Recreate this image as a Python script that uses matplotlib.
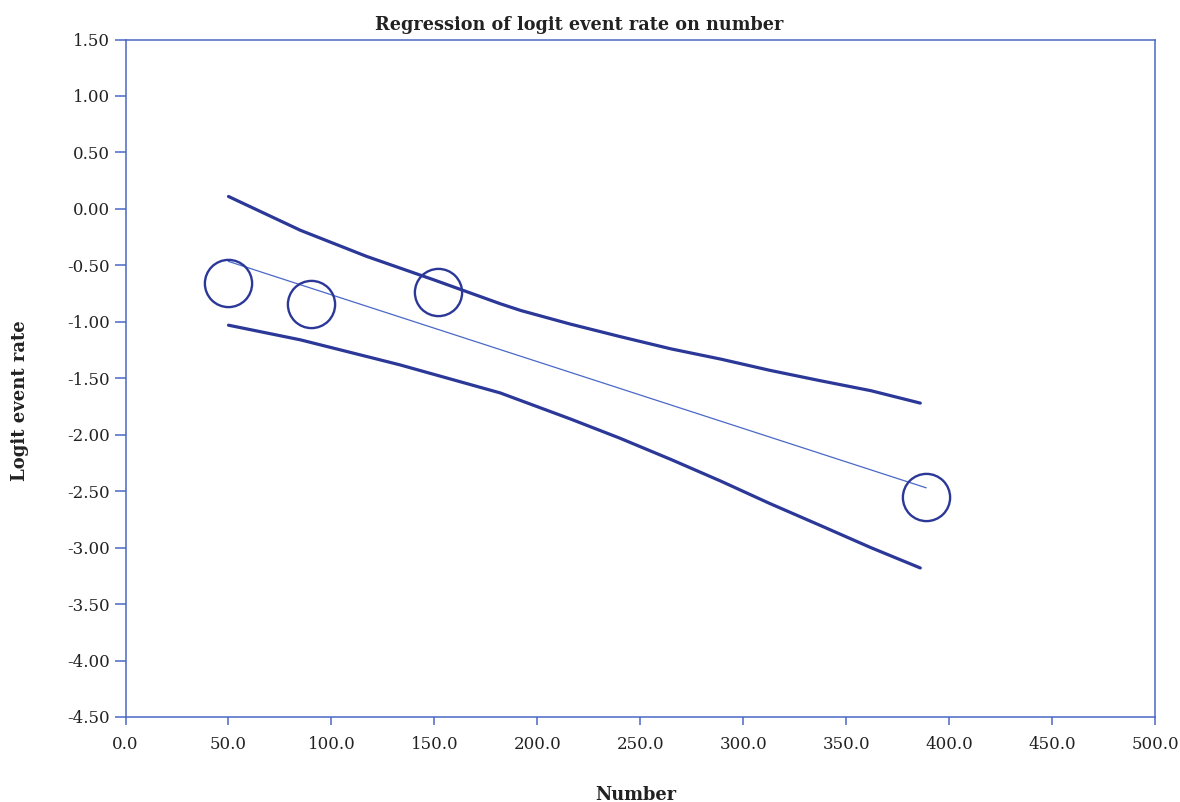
import matplotlib.pyplot as plt
from matplotlib.ticker import FormatStrFormatter, MultipleLocator

plt.rcParams['font.family'] = 'DejaVu Serif'
plt.rcParams['axes.unicode_minus'] = False

# Studies (number vs logit event rate)
study_number = [50.0, 90.0, 152.0, 389.0]
study_logit = [-0.66, -0.84, -0.74, -2.55]

# Fitted regression line
fit_x = [50.0, 388.8]
fit_y = [-0.465, -2.47]

# Confidence limits
upper_x = [50, 85, 117, 150, 182, 192, 216, 240, 265, 289, 313, 337, 362, 386]
upper_y = [0.11, -0.19, -0.42, -0.63, -0.84, -0.90, -1.02, -1.13, -1.24,
           -1.33, -1.43, -1.52, -1.61, -1.72]
lower_x = [50, 85, 133, 182, 216, 240, 265, 289, 313, 337, 362, 386]
lower_y = [-1.03, -1.16, -1.38, -1.63, -1.86, -2.03, -2.22, -2.41,
           -2.61, -2.80, -3.00, -3.18]

spine_blue = '#4a68c6'
dark_blue = '#2b3898'
text_col = '#222222'

fig = plt.figure(figsize=(11.8, 8.02), dpi=100)
ax = fig.add_axes([0.1064, 0.106, 0.8724, 0.8447])

ax.plot(upper_x, upper_y, color=dark_blue, lw=2.3, solid_capstyle='round', solid_joinstyle='round')
ax.plot(lower_x, lower_y, color=dark_blue, lw=2.3, solid_capstyle='round', solid_joinstyle='round')
ax.plot(fit_x, fit_y, color=spine_blue, lw=0.9)
ax.plot(study_number, study_logit, linestyle='none', marker='o', markersize=34,
        markerfacecolor='none', markeredgecolor=dark_blue, markeredgewidth=1.7)

ax.set_xlim(0, 500)
ax.set_ylim(-4.5, 1.5)
ax.xaxis.set_major_locator(MultipleLocator(50))
ax.yaxis.set_major_locator(MultipleLocator(0.5))
ax.xaxis.set_major_formatter(FormatStrFormatter('%.1f'))
ax.yaxis.set_major_formatter(FormatStrFormatter('%.2f'))

for s in ax.spines.values():
    s.set_color(spine_blue)
    s.set_linewidth(1.1)
ax.tick_params(axis='y', direction='out', length=8, width=1.1, color=spine_blue,
               labelsize=12, pad=3.5, labelcolor=text_col)
ax.tick_params(axis='x', direction='out', length=6, width=1.1, color=spine_blue,
               labelsize=12, pad=8, labelcolor=text_col)

fig.text(579 / 1180, 1 - 25 / 802, 'Regression of logit event rate on number',
         fontsize=12.7, fontweight='bold', color=text_col, ha='center', va='center')
fig.text(636 / 1180, 1 - 795 / 802, 'Number', fontsize=12.8, fontweight='bold',
         color=text_col, ha='center', va='center')
fig.text(20 / 1180, 1 - 401 / 802, 'Logit event rate', fontsize=13, fontweight='bold',
         color=text_col, ha='center', va='center', rotation=90)

fig.savefig('out.png', dpi=100)
